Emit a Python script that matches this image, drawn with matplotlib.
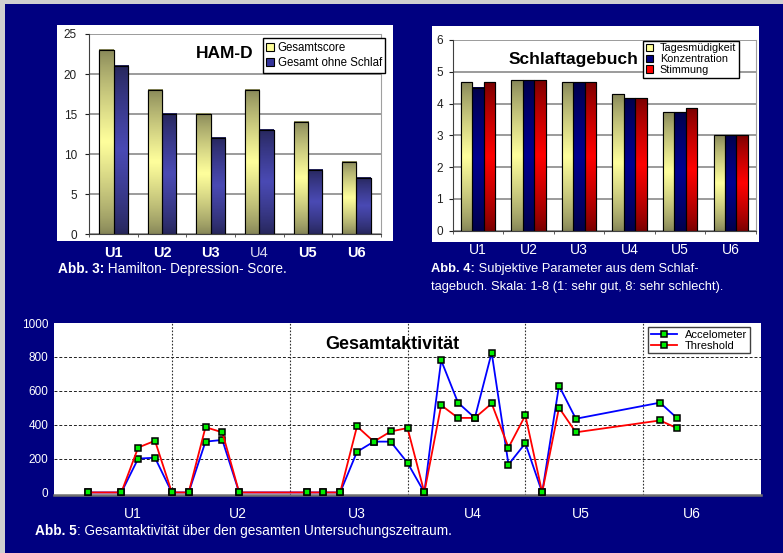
import numpy as np
import matplotlib
matplotlib.use("Agg")
import matplotlib.pyplot as plt
from matplotlib.patches import Rectangle

plt.rcParams['font.family'] = ['Liberation Sans', 'DejaVu Sans']

NAVY = '#000080'

# --- HAM-D scores per visit ---
visits = ['U1', 'U2', 'U3', 'U4', 'U5', 'U6']
ham_total = [23, 18, 15, 18, 14, 9]
ham_no_sleep = [21, 15, 12, 13, 8, 7]

# --- sleep diary parameters ---
sleep_labels = ['Tagesmüdigkeit', 'Konzentration', 'Stimmung']
tagesmuedigkeit = [4.67, 4.73, 4.67, 4.29, 3.72, 3.0]
konzentration = [4.50, 4.73, 4.67, 4.16, 3.72, 3.0]
stimmung = [4.67, 4.73, 4.67, 4.16, 3.86, 3.0]

# --- total activity per recording day ---
days = [2, 4, 5, 6, 7, 8, 9, 10, 11, 15, 16, 17, 18, 19, 20, 21, 22, 23,
        24, 25, 26, 27, 28, 29, 30, 31, 36, 37]
accelometer = [0, 0, 200, 205, 0, 0, 300, 310, 0, 0, 0, 0, 240, 300, 300,
               175, 0, 780, 530, 440, 825, 165, 290, 0, 630, 435, 530, 440]
threshold = [0, 0, 265, 305, 0, 0, 385, 355, 0, 0, 0, 0, 390, 300, 360,
             380, 0, 515, 440, 440, 525, 265, 455, 0, 500, 355, 425, 380]
week_label_pos = [4.7, 10.9, 18.0, 24.9, 31.3, 37.9]


def hex2rgb(h):
    return np.array(matplotlib.colors.to_rgb(h))


def gradient_bars(ax, bars, dark, light):
    # Excel-style fill: dark at top and bottom, bright in the middle
    t = np.linspace(0, 1, 80)
    f = (1 - np.abs(2 * t - 1)) ** 0.8
    d, l = hex2rgb(dark), hex2rgb(light)
    cols = d + (l - d) * f[:, None]
    img = cols[:, None, :]
    for r in bars:
        x, y0, w, h = r.get_x(), r.get_y(), r.get_width(), r.get_height()
        ax.imshow(img, extent=[x, x + w, y0, y0 + h], origin='lower',
                  aspect='auto', interpolation='bilinear', zorder=2.5)
    ax.bar([r.get_x() + r.get_width() / 2 for r in bars],
           [r.get_height() for r in bars], width=bars[0].get_width(),
           fill=False, edgecolor='black', linewidth=0.8, zorder=3)


def caption(fig, x, y, bold, rest, size):
    t = fig.text(x, y, bold, color='white', weight='bold', fontsize=size,
                 va='center', ha='left')
    fig.canvas.draw()
    bb = t.get_window_extent(renderer=fig.canvas.get_renderer())
    fig.text(bb.x1 / fig.bbox.width, y, rest, color='white', fontsize=size,
             va='center', ha='left')


W, H = 783, 553
fig = plt.figure(figsize=(W / 100, H / 100), dpi=100, facecolor=NAVY)


def panel(x0, y0, w, h, color):
    # rectangle in pixel coordinates measured from the top-left corner
    fig.patches.append(Rectangle((x0 / W, 1 - (y0 + h) / H), w / W, h / H,
                                 transform=fig.transFigure, facecolor=color,
                                 edgecolor='none', zorder=-5))


# light bevel on the top and left edge of the slide
panel(0, 0, W, 4, '#d0d0d0')
panel(0, 0, 5, H, '#d0d0d0')
# white panels behind the two upper charts
panel(56.7, 25, 336, 215.7, 'white')
panel(431.7, 26, 327.3, 215.7, 'white')

# ---------------- HAM-D ----------------
ax1 = fig.add_axes([89.3 / W, 1 - 234.3 / H, 291.4 / W, 200.3 / H])
x = np.arange(len(visits))
bw = 0.295
b1 = ax1.bar(x - bw / 2, ham_total, bw, color='#ffff99', edgecolor='black',
             linewidth=0.8, label='Gesamtscore', zorder=2)
b2 = ax1.bar(x + bw / 2, ham_no_sleep, bw, color='#333399', edgecolor='black',
             linewidth=0.8, label='Gesamt ohne Schlaf', zorder=2)
gradient_bars(ax1, b1, '#868658', '#ffff9c')
gradient_bars(ax1, b2, '#26265a', '#4a4ab4')
ax1.set_xlim(-0.5, 5.5)
ax1.set_ylim(0, 25)
ax1.set_yticks(range(0, 26, 5))
ax1.yaxis.grid(True, color='#808080', linewidth=1.1)
ax1.set_axisbelow(True)
ax1.spines['top'].set_visible(False)
ax1.spines['right'].set_color('#a0a0a0')
ax1.spines['left'].set_color('#404040')
ax1.spines['bottom'].set_color('#404040')
ax1.tick_params(axis='y', length=3, pad=6, labelsize=8.5, colors='#202020')
ax1.set_xticks(x)
ax1.set_xticks(np.arange(-0.5, 6, 1), minor=True)
ax1.set_xticklabels(visits)
ax1.tick_params(axis='x', which='major', length=0, pad=8.5, labelsize=10.5,
                labelcolor='white')
ax1.tick_params(axis='x', which='minor', length=2.5, color='#404040')
for lab in ax1.get_xticklabels():
    if lab.get_text() == 'U4':
        lab.set_color('#d8d8ee')
    else:
        lab.set_fontweight('bold')
ax1.text(0.466, 0.905, 'HAM-D', transform=ax1.transAxes, fontsize=12.5,
         weight='bold', ha='center', va='center')
ax1.legend(handles=[b1, b2], loc='upper left', bbox_to_anchor=(0.595, 0.978),
           fontsize=8.3, frameon=True, fancybox=False, edgecolor='black',
           framealpha=1, handlelength=0.7, handleheight=0.7,
           handletextpad=0.3, borderpad=0.3, labelspacing=0.3,
           borderaxespad=0)

# ---------------- Schlaftagebuch ----------------
ax2 = fig.add_axes([452.7 / W, 1 - 230.7 / H, 303.3 / W, 190.7 / H])
bw2 = 0.227
c1 = ax2.bar(x - bw2, tagesmuedigkeit, bw2, color='#ffff99', edgecolor='black',
             linewidth=0.8, label=sleep_labels[0], zorder=2)
c2 = ax2.bar(x, konzentration, bw2, color='#000080', edgecolor='black',
             linewidth=0.8, label=sleep_labels[1], zorder=2)
c3 = ax2.bar(x + bw2, stimmung, bw2, color='#ff0000', edgecolor='black',
             linewidth=0.8, label=sleep_labels[2], zorder=2)
gradient_bars(ax2, c1, '#868658', '#ffff9c')
gradient_bars(ax2, c2, '#00004a', '#000090')
gradient_bars(ax2, c3, '#780000', '#ff0000')
ax2.set_xlim(-0.5, 5.5)
ax2.set_ylim(0, 6)
ax2.set_yticks(range(0, 7))
ax2.yaxis.grid(True, color='#808080', linewidth=1.1)
ax2.set_axisbelow(True)
ax2.spines['top'].set_visible(False)
ax2.spines['right'].set_color('#a0a0a0')
ax2.spines['left'].set_color('#404040')
ax2.spines['bottom'].set_color('#404040')
ax2.tick_params(axis='y', length=3, pad=4, labelsize=8.5, colors='#202020')
ax2.set_xticks(x)
ax2.set_xticks(np.arange(-0.5, 6, 1), minor=True)
ax2.set_xticklabels(visits)
ax2.tick_params(axis='x', which='major', length=0, pad=8.5, labelsize=10,
                labelcolor='white')
ax2.tick_params(axis='x', which='minor', length=2.5, color='#404040')
ax2.text(0.399, 0.9, 'Schlaftagebuch', transform=ax2.transAxes, fontsize=12.5,
         weight='bold', ha='center', va='center')
ax2.legend(handles=[c1, c2, c3], loc='upper left',
           bbox_to_anchor=(0.628, 0.997), fontsize=7.8, frameon=True,
           fancybox=False, edgecolor='black', framealpha=1,
           handlelength=0.7, handleheight=0.7, handletextpad=0.6,
           borderpad=0.25, labelspacing=0.08, borderaxespad=0)

# ---------------- Gesamtaktivität ----------------
ax3 = fig.add_axes([54 / W, 1 - 494.5 / H, 707 / W, 171.5 / H])
ax3.plot(days, accelometer, color='#0000ff', linewidth=1.3, marker='s',
         markersize=4.5, markerfacecolor='#00ee00', markeredgecolor='black',
         markeredgewidth=1.1, label='Accelometer', zorder=3)
ax3.plot(days, threshold, color='#ff0000', linewidth=1.3, marker='s',
         markersize=4.5, markerfacecolor='#00ee00', markeredgecolor='black',
         markeredgewidth=1.1, label='Threshold', zorder=4)
ax3.set_xlim(0, 42)
ax3.set_ylim(-12, 1000)
yt = list(range(0, 1001, 200))
ax3.set_yticks(yt)
ax3.set_xticks(range(7, 42, 7))
ax3.set_xticklabels([])
ax3.set_xticks(week_label_pos, minor=True)
ax3.set_xticklabels(visits, minor=True)
ax3.tick_params(axis='x', which='both', length=0)
ax3.tick_params(axis='x', which='minor', pad=9, labelsize=10,
                labelcolor='white')
ax3.tick_params(axis='y', length=0, pad=4, labelsize=8.5, labelcolor='white')
ax3.xaxis.grid(True, which='major', color='#303030', linestyle=(0, (1.5, 1.5)),
               linewidth=0.8)
for v in yt[1:-1]:
    ax3.axhline(v, color='#202020', linestyle=(0, (3, 2)), linewidth=0.7,
                zorder=1)
for s in ['top', 'left', 'right']:
    ax3.spines[s].set_visible(False)
ax3.spines['bottom'].set_color('#707070')
ax3.spines['bottom'].set_linewidth(1.8)
ax3.text(0.479, 0.872, 'Gesamtaktivität', transform=ax3.transAxes,
         fontsize=13, weight='bold', ha='center', va='center', zorder=5)
ax3.legend(loc='upper left', bbox_to_anchor=(0.84, 0.978), fontsize=8,
           frameon=True, fancybox=False, edgecolor='#404040', framealpha=1,
           handlelength=2.4, handletextpad=0.7, borderpad=0.25,
           labelspacing=0.1, borderaxespad=0)

# ---------------- captions ----------------
caption(fig, 58 / W, 1 - 269 / H, 'Abb. 3:', ' Hamilton- Depression- Score.', 9.8)
caption(fig, 430.7 / W, 1 - 269.3 / H, 'Abb. 4:',
        ' Subjektive Parameter aus dem Schlaf-', 9.3)
fig.text(430.7 / W, 1 - 286.7 / H,
         'tagebuch. Skala: 1-8 (1: sehr gut, 8: sehr schlecht).',
         color='white', fontsize=9.3, va='center', ha='left')
caption(fig, 35 / W, 1 - 530.7 / H, 'Abb. 5',
        ': Gesamtaktivität über den gesamten Untersuchungszeitraum.', 9.8)

fig.savefig('out.png', dpi=100, facecolor=NAVY)
